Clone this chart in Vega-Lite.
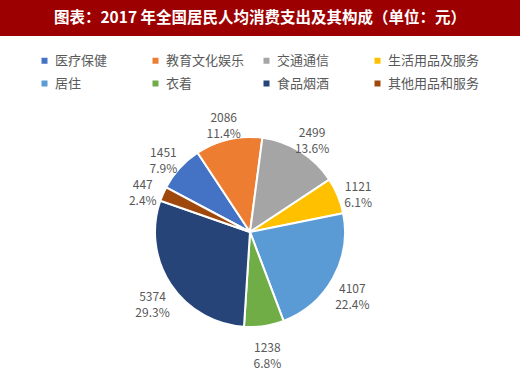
{
  "$schema": "https://vega.github.io/schema/vega-lite/v6.json",
  "padding": 0,
  "background": "white",
  "spacing": 58,
  "config": {
    "view": {"stroke": null},
    "font": "Noto Sans CJK SC",
    "text": {"font": "Noto Sans CJK SC"}
  },
  "vconcat": [
    {
      "width": 520,
      "height": 36,
      "view": {"fill": "#9C0000", "stroke": null},
      "data": {"values": [{"title": "图表：2017 年全国居民人均消费支出及其构成（单位：元）"}]},
      "mark": {"type": "text", "color": "white", "fontSize": 15.5, "fontWeight": "bold", "baseline": "middle", "align": "center"},
      "encoding": {"text": {"field": "title"}}
    },
    {
      "width": 500,
      "height": 276,
      "data": {
        "values": [
          {"idx": 1, "name": "医疗保健", "value": 1451, "label": "1451\n7.9%"},
          {"idx": 2, "name": "教育文化娱乐", "value": 2086, "label": "2086\n11.4%"},
          {"idx": 3, "name": "交通通信", "value": 2499, "label": "2499\n13.6%"},
          {"idx": 4, "name": "生活用品及服务", "value": 1121, "label": "1121\n6.1%"},
          {"idx": 5, "name": "居住", "value": 4107, "label": "4107\n22.4%"},
          {"idx": 6, "name": "衣着", "value": 1238, "label": "1238\n6.8%"},
          {"idx": 7, "name": "食品烟酒", "value": 5374, "label": "5374\n29.3%"},
          {"idx": 8, "name": "其他用品和服务", "value": 447, "label": "447\n2.4%"}
        ]
      },
      "encoding": {
        "theta": {"field": "value", "type": "quantitative", "stack": true, "scale": {"range": [-1.082, 5.201]}},
        "order": {"field": "idx", "type": "quantitative"},
        "color": {
          "field": "name",
          "type": "nominal",
          "scale": {
            "domain": ["医疗保健", "教育文化娱乐", "交通通信", "生活用品及服务", "居住", "衣着", "食品烟酒", "其他用品和服务"],
            "range": ["#4472C4", "#ED7D31", "#A5A5A5", "#FFC000", "#5B9BD5", "#70AD47", "#264478", "#9E480E"]
          },
          "legend": {
            "title": null,
            "orient": "none",
            "legendX": 38,
            "legendY": 54,
            "direction": "horizontal",
            "columns": 4,
            "gridAlign": "all",
            "columnPadding": 2,
            "rowPadding": 9,
            "symbolType": "square",
            "symbolSize": 36,
            "symbolStrokeWidth": 0,
            "labelFontSize": 13,
            "labelColor": "#595959",
            "labelOffset": 4,
            "labelLimit": 200
          }
        }
      },
      "layer": [
        {"mark": {"type": "arc", "outerRadius": 95, "stroke": "white", "strokeWidth": 2}},
        {
          "mark": {"type": "text", "radius": 117, "lineBreak": "\n", "fontSize": 12, "lineHeight": 16, "baseline": "middle", "align": "center"},
          "encoding": {"text": {"field": "label"}, "color": {"value": "#595959"}}
        }
      ]
    }
  ]
}
